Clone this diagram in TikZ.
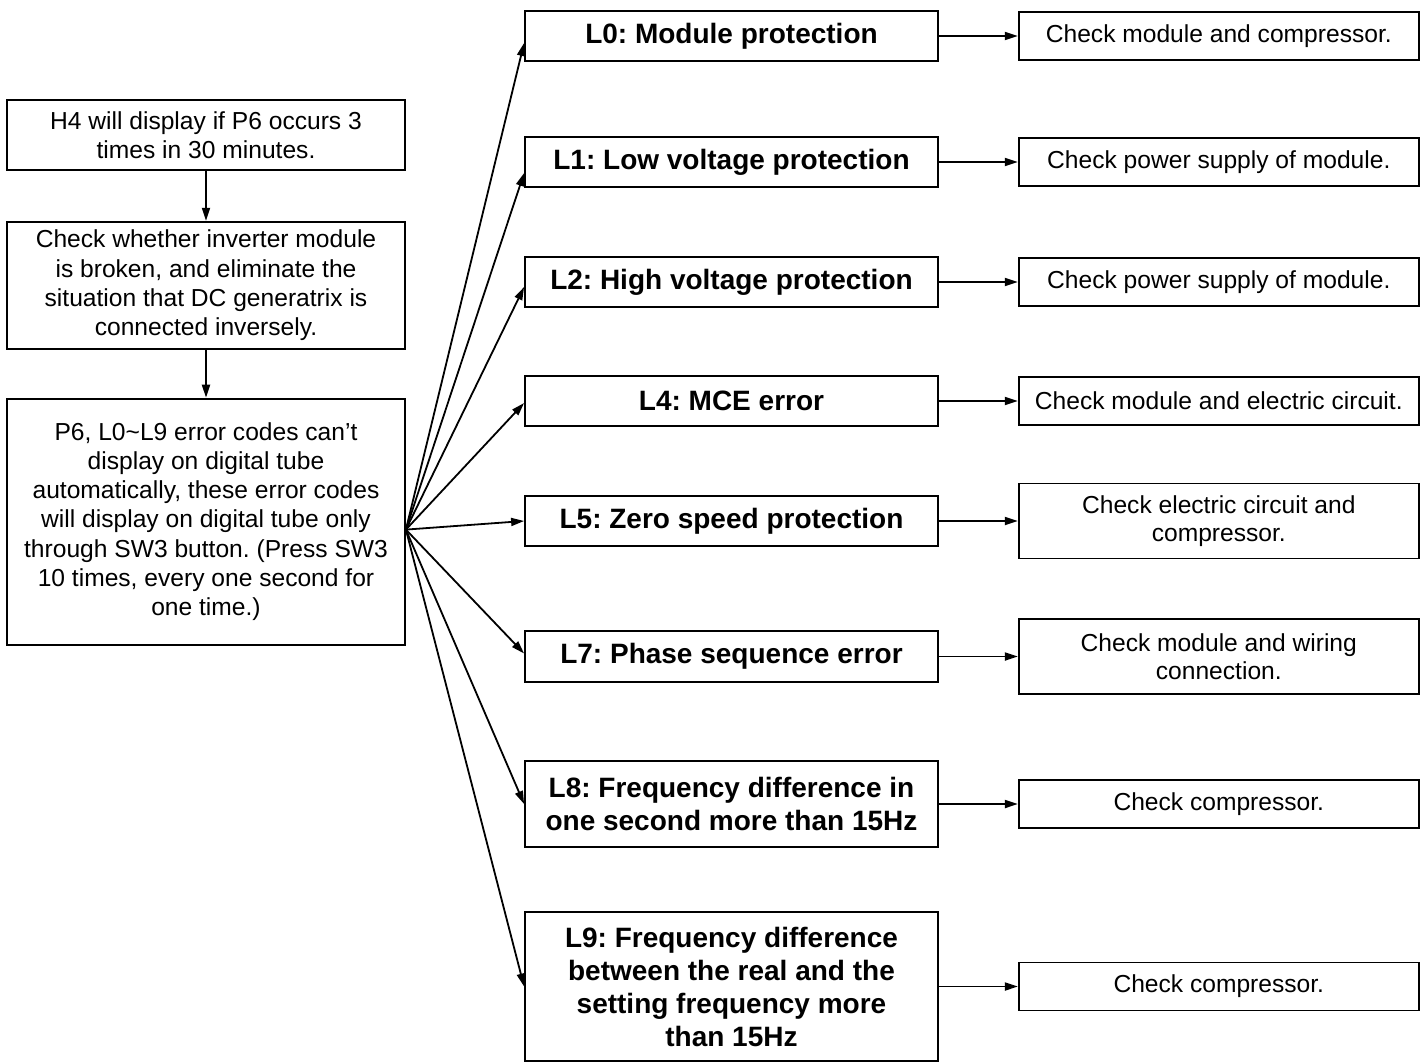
\documentclass[tikz,border=0pt]{standalone}
\usepackage{fontspec}
\setmainfont{Liberation Sans}
\usepackage{tikz}
\usetikzlibrary{arrows.meta,positioning}
\tikzset{
    stepbox/.style={draw, align=center, inner sep=2pt, minimum width=199pt,
        font=\fontsize{12.3}{14.6}\selectfont},
    errbox/.style={draw, align=center, inner sep=2pt, minimum width=206.5pt,
        minimum height=25pt, font=\fontsize{14}{16.5}\selectfont\bfseries},
    fixbox/.style={draw, align=center, inner sep=2pt, minimum width=200pt,
        minimum height=24pt, font=\fontsize{12.3}{14}\selectfont},
    flowarrow/.style={-{Triangle[length=6.5pt,width=4pt]}}
}

\begin{document}
\frenchspacing
\begin{tikzpicture}[x=0.5pt, y=-0.5pt, line width=0.9pt, node distance=25pt and 39.5pt]
        \useasboundingbox (0,0) rectangle (1426,1062);

        % left column
        \node[stepbox, minimum height=35pt] (h4) at (206,135)
            {H4 will display if P6 occurs 3\\times in 30 minutes.};
        \node[stepbox, minimum height=63.5pt, below=of h4] (inverter)
            {Check whether inverter module\\is broken, and eliminate the\\situation that DC generatrix is\\connected inversely.};
        \node[stepbox, minimum height=123pt, below=24pt of inverter] (codes)
            {P6, L0\textasciitilde L9 error codes can’t\\display on digital tube\\automatically, these error codes\\will display on digital tube only\\through SW3 button. (Press SW3\\10 times, every one second for\\one time.)};
        \coordinate (fan) at ([yshift=-4pt]codes.east);

        % error codes
        \node[errbox] (err0) at (731.5,36) {L0: Module protection};
        \node[errbox] (err1) at (731.5,162) {L1: Low voltage protection};
        \node[errbox] (err2) at (731.5,282) {L2: High voltage protection};
        \node[errbox] (err4) at (731.5,401) {L4: MCE error};
        \node[errbox] (err5) at (731.5,521) {L5: Zero speed protection};
        \node[errbox, minimum height=25.5pt] (err7) at (731.5,656.5) {L7: Phase sequence error};
        \node[errbox, minimum height=43pt] (err8) at (731.5,804)
            {L8: Frequency difference in\\one second more than 15Hz};
        \node[errbox, minimum height=74.5pt] (err9) at (731.5,986.5)
            {L9: Frequency difference\\between the real and the\\setting frequency more\\than 15Hz};

        % what to check
        \node[fixbox, right=of err0] (fix0) {Check module and compressor.};
        \node[fixbox, right=of err1] (fix1) {Check power supply of module.};
        \node[fixbox, right=of err2] (fix2) {Check power supply of module.};
        \node[fixbox, right=of err4] (fix4) {Check module and electric circuit.};
        \node[fixbox, minimum height=37.5pt, right=of err5] (fix5)
            {Check electric circuit and\\compressor.};
        \node[fixbox, minimum height=37.5pt, right=of err7] (fix7)
            {Check module and wiring\\connection.};
        \node[fixbox, right=of err8] (fix8) {Check compressor.};
        \node[fixbox, right=of err9] (fix9) {Check compressor.};

        \draw[flowarrow] (h4) -- (inverter);
        \draw[flowarrow] (inverter) -- (codes);
        \foreach \e/\s in {0/-3.5pt, 1/-5.5pt, 2/-2.5pt, 4/-1pt, 5/0pt, 7/1.5pt, 8/0pt, 9/0pt}
            \draw[flowarrow] (fan) -- ([yshift=\s]err\e.west);
        \foreach \e in {0,1,2,4,5,7,8,9}
            \draw[flowarrow] (err\e) -- (fix\e);
    \end{tikzpicture}
\end{document}
